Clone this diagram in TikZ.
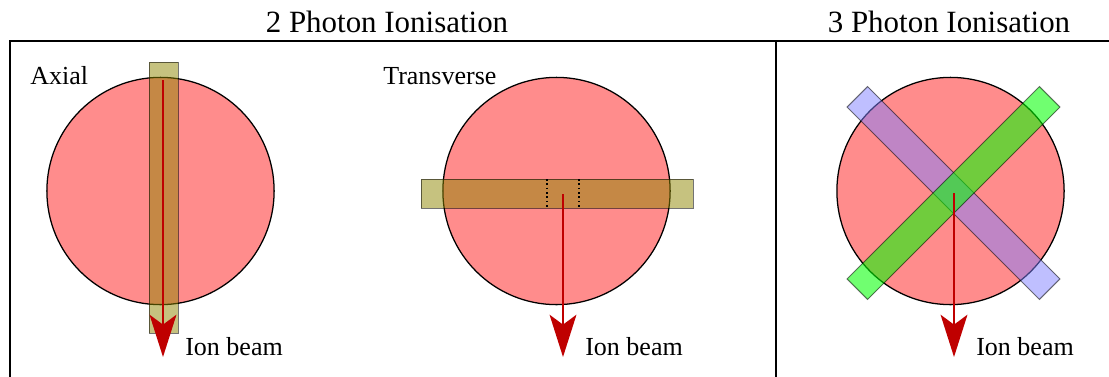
\documentclass[tikz,border=0pt]{standalone}
\usepackage{fontspec}
\setmainfont{LiberationSerif}[Extension=.ttf,UprightFont=*-Regular]
\usetikzlibrary{arrows.meta}
\begin{document}
\begin{tikzpicture}[x=0.025cm,y=-0.025cm,
    chamber/.style={circle,draw=black,line width=0.9pt,fill=red!45,inner sep=0pt,minimum size=5.68cm},
    laser/.style={draw=black,draw opacity=0.55,fill opacity=0.5,line width=0.7pt},
    ionbeam/.style={draw=red!75!black,line width=2.1pt,-{Stealth[length=30pt,width=19pt,inset=7pt]}},
    lbl/.style={font=\fontsize{18.5}{20}\selectfont,anchor=base west,inner sep=0pt},
    title/.style={font=\fontsize{22}{24}\selectfont,anchor=base,inner sep=0pt}]
  \useasboundingbox (0,0) rectangle (1109,376);
  \clip (0,0) rectangle (1109,376);
  % frame
  \draw[line width=1.5pt] (10,400) -- (10,41) -- (1120,41);
  \draw[line width=1.5pt] (776,41) -- (776,400);
  \node[title] (twoph) at (387,32) {2 Photon Ionisation};
  \node[title] (threeph) at (949,32) {3 Photon Ionisation};

  % chambers
  \node[chamber] (axial) at (160.5,191) {};
  \node[chamber] (trans) at (556.5,191) {};
  \node[chamber] (three) at (950.5,191) {};
  \node[lbl] (axlbl) at (30,84) {Axial};
  \node[lbl] (trlbl) at (383,84) {Transverse};

  % laser beams
  \draw[laser,fill=olive] (149,62) rectangle (178,333);
  \draw[laser,fill=olive] (421,179) rectangle (693,208);
  \foreach \x in {547,579} {
      \draw[dotted,line width=1.1pt] (\x,179) -- (\x,208);
    }
  \begin{scope}[shift={(953.5,193)},rotate=-45]
    \draw[laser,fill=blue!50] (-136,-14.5) rectangle (136,14.5);
  \end{scope}
  \begin{scope}[shift={(953.5,193)},rotate=45]
    \draw[laser,fill opacity=0.56,fill=green] (-136,-14.5) rectangle (136,14.5);
  \end{scope}

  % ion beams
  \foreach \n/\x/\y in {ax/163/80,tr/563/194,th/954/193} {
      \coordinate (\n top) at (\x,\y);
      \coordinate (\n tip) at (\x,357);
      \draw[ionbeam] (\n top) -- (\n tip);
      \node[lbl] (\n ion) at (\x+22,355) {Ion beam};
    }
\end{tikzpicture}
\end{document}
